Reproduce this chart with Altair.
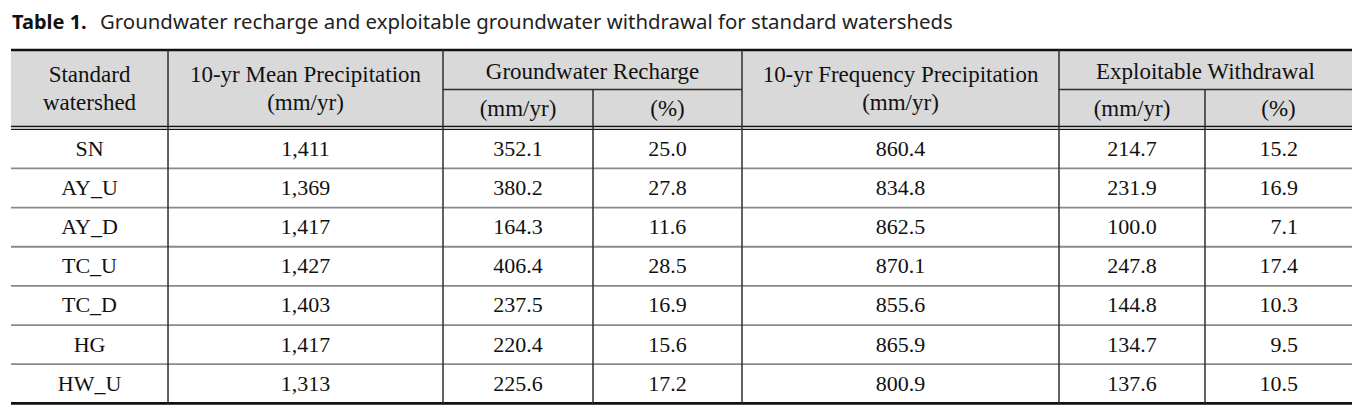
import altair as alt
import pandas as pd

# ---------------- data ----------------
watersheds = ["SN", "AY_U", "AY_D", "TC_U", "TC_D", "HG", "HW_U"]
mean_precip = [1411, 1369, 1417, 1427, 1403, 1417, 1313]
recharge_mm = [352.1, 380.2, 164.3, 406.4, 237.5, 220.4, 225.6]
recharge_pct = [25.0, 27.8, 11.6, 28.5, 16.9, 15.6, 17.2]
freq_precip = [860.4, 834.8, 862.5, 870.1, 855.6, 865.9, 800.9]
withdrawal_mm = [214.7, 231.9, 100.0, 247.8, 144.8, 134.7, 137.6]
withdrawal_pct = [15.2, 16.9, 7.1, 17.4, 10.3, 9.5, 10.5]

title_bold = "Table 1."
title_text = "Groundwater recharge and exploitable groundwater withdrawal for standard watersheds"

# header texts: (first col, last col, row span, lines)
header_cells = [
    (0, 0, "both", ["Standard", "watershed"]),
    (1, 1, "both", ["10-yr Mean Precipitation", "(mm/yr)"]),
    (2, 3, "top", ["Groundwater Recharge"]),
    (2, 2, "bottom", ["(mm/yr)"]),
    (3, 3, "bottom", ["(%)"]),
    (4, 4, "both", ["10-yr Frequency Precipitation", "(mm/yr)"]),
    (5, 6, "top", ["Exploitable Withdrawal"]),
    (5, 5, "bottom", ["(mm/yr)"]),
    (6, 6, "bottom", ["(%)"]),
]

# ---------------- layout (table geometry) ----------------
col_widths = [157, 275, 150, 149, 317, 146, 147]
edges = [0]
for w in col_widths:
    edges.append(edges[-1] + w)
W = edges[-1]
H_TOP = 39.5          # header first row
H_HEAD = 76.5         # full header
GAP = 2.8             # double line gap
ROW_H = 39.15
Y_DATA = H_HEAD + GAP
H = Y_DATA + ROW_H * len(watersheds)
PCT_RIGHT = 19.5      # right-aligned offset for last column

BLACK = "#111111"
GRID = "#2e2e2e"
ROWLINE = "#8a8a8a"
HEAD_FILL = "#d9d9d9"
SERIF = "Liberation Serif"

xs = alt.Scale(domain=[0, W], range=[0, W], nice=False, zero=False)
ys = alt.Scale(domain=[0, H], range=[0, H], nice=False, zero=False)

# ---------------- cells ----------------
cols = [watersheds, mean_precip, recharge_mm, recharge_pct,
        freq_precip, withdrawal_mm, withdrawal_pct]
rows = []
for i in range(len(watersheds)):
    for j, col in enumerate(cols):
        v = col[i]
        if j == 0:
            s = v
        elif j == 1:
            s = f"{v:,.0f}"
        else:
            s = f"{v:.1f}"
        rows.append({
            "xc": (edges[j] + edges[j + 1]) / 2 + (PCT_RIGHT if j == 6 else 0),
            "yc": Y_DATA + ROW_H * (i + 0.5),
            "label": s,
            "right": j == 6,
        })
data_df = pd.DataFrame(rows)

hrows = []
for c0, c1, span, lines in header_cells:
    xc = (edges[c0] + edges[c1 + 1]) / 2
    if span == "both":
        ys_ = [25.0, 53.5]
    elif span == "top":
        ys_ = [22.0]
    else:
        ys_ = [59.0]
    for t, y in zip(lines, ys_):
        hrows.append({"xc": xc, "yc": y, "label": t})
head_df = pd.DataFrame(hrows)

# ---------------- lines ----------------
lines = []
lines.append({"x": 0, "x2": W, "y": 0, "y2": 0, "c": BLACK, "sw": 2.6})
lines.append({"x": edges[2], "x2": edges[4], "y": H_TOP, "y2": H_TOP, "c": GRID, "sw": 1.3})
lines.append({"x": edges[5], "x2": W, "y": H_TOP, "y2": H_TOP, "c": GRID, "sw": 1.3})
lines.append({"x": 0, "x2": W, "y": H_HEAD, "y2": H_HEAD, "c": BLACK, "sw": 1.3})
lines.append({"x": 0, "x2": W, "y": Y_DATA, "y2": Y_DATA, "c": BLACK, "sw": 1.3})
for k in range(1, len(watersheds)):
    y = Y_DATA + ROW_H * k
    lines.append({"x": 0, "x2": W, "y": y, "y2": y, "c": ROWLINE, "sw": 1.8})
lines.append({"x": 0, "x2": W, "y": H, "y2": H, "c": BLACK, "sw": 2.8})
for j in range(1, len(edges) - 1):
    y0 = H_TOP if j in (3, 6) else 0
    lines.append({"x": edges[j], "x2": edges[j], "y": y0, "y2": H, "c": GRID, "sw": 1.5})
lines_df = pd.DataFrame(lines)

fill_df = pd.DataFrame([{"x": 0, "x2": W, "y": 0, "y2": H_HEAD}])

fill = alt.Chart(fill_df).mark_rect(color=HEAD_FILL).encode(
    x=alt.X("x:Q", scale=xs, axis=None), x2="x2:Q",
    y=alt.Y("y:Q", scale=ys, axis=None), y2="y2:Q",
)

rules = alt.Chart(lines_df).mark_rule().encode(
    x=alt.X("x:Q", scale=xs, axis=None), x2="x2:Q",
    y=alt.Y("y:Q", scale=ys, axis=None), y2="y2:Q",
    color=alt.Color("c:N", scale=None),
    strokeWidth=alt.StrokeWidth("sw:Q", scale=None),
)

head_text = alt.Chart(head_df).mark_text(
    font=SERIF, fontSize=23, color="#111111", baseline="middle", align="center"
).encode(
    x=alt.X("xc:Q", scale=xs, axis=None),
    y=alt.Y("yc:Q", scale=ys, axis=None),
    text="label:N",
)

body_center = alt.Chart(data_df).transform_filter("!datum.right").mark_text(
    font=SERIF, fontSize=22, color="#111111", baseline="middle", align="center"
).encode(
    x=alt.X("xc:Q", scale=xs, axis=None),
    y=alt.Y("yc:Q", scale=ys, axis=None),
    text="label:N",
)

body_right = alt.Chart(data_df).transform_filter("datum.right").mark_text(
    font=SERIF, fontSize=22, color="#111111", baseline="middle", align="right"
).encode(
    x=alt.X("xc:Q", scale=xs, axis=None),
    y=alt.Y("yc:Q", scale=ys, axis=None),
    text="label:N",
)

title_df = pd.DataFrame([{"bold": title_bold, "rest": title_text}])
t_bold = alt.Chart(title_df).mark_text(
    font="Noto Sans", fontSize=20, fontWeight="bold", color="#111111",
    align="left", baseline="middle"
).encode(x=alt.value(1), y=alt.value(-27), text="bold:N")
t_rest = alt.Chart(title_df).mark_text(
    font="Noto Sans", fontSize=20.4, color="#222222",
    align="left", baseline="middle"
).encode(x=alt.value(89), y=alt.value(-27), text="rest:N")

chart = alt.layer(fill, rules, head_text, body_center, body_right, t_bold, t_rest).properties(
    width=W, height=H,
    autosize=alt.AutoSizeParams(type="none"),
    padding={"left": 3, "top": 42, "right": 10, "bottom": 2},
).configure_view(stroke=None)

chart.save("out.html", embed_options={"renderer": "svg", "actions": False})
